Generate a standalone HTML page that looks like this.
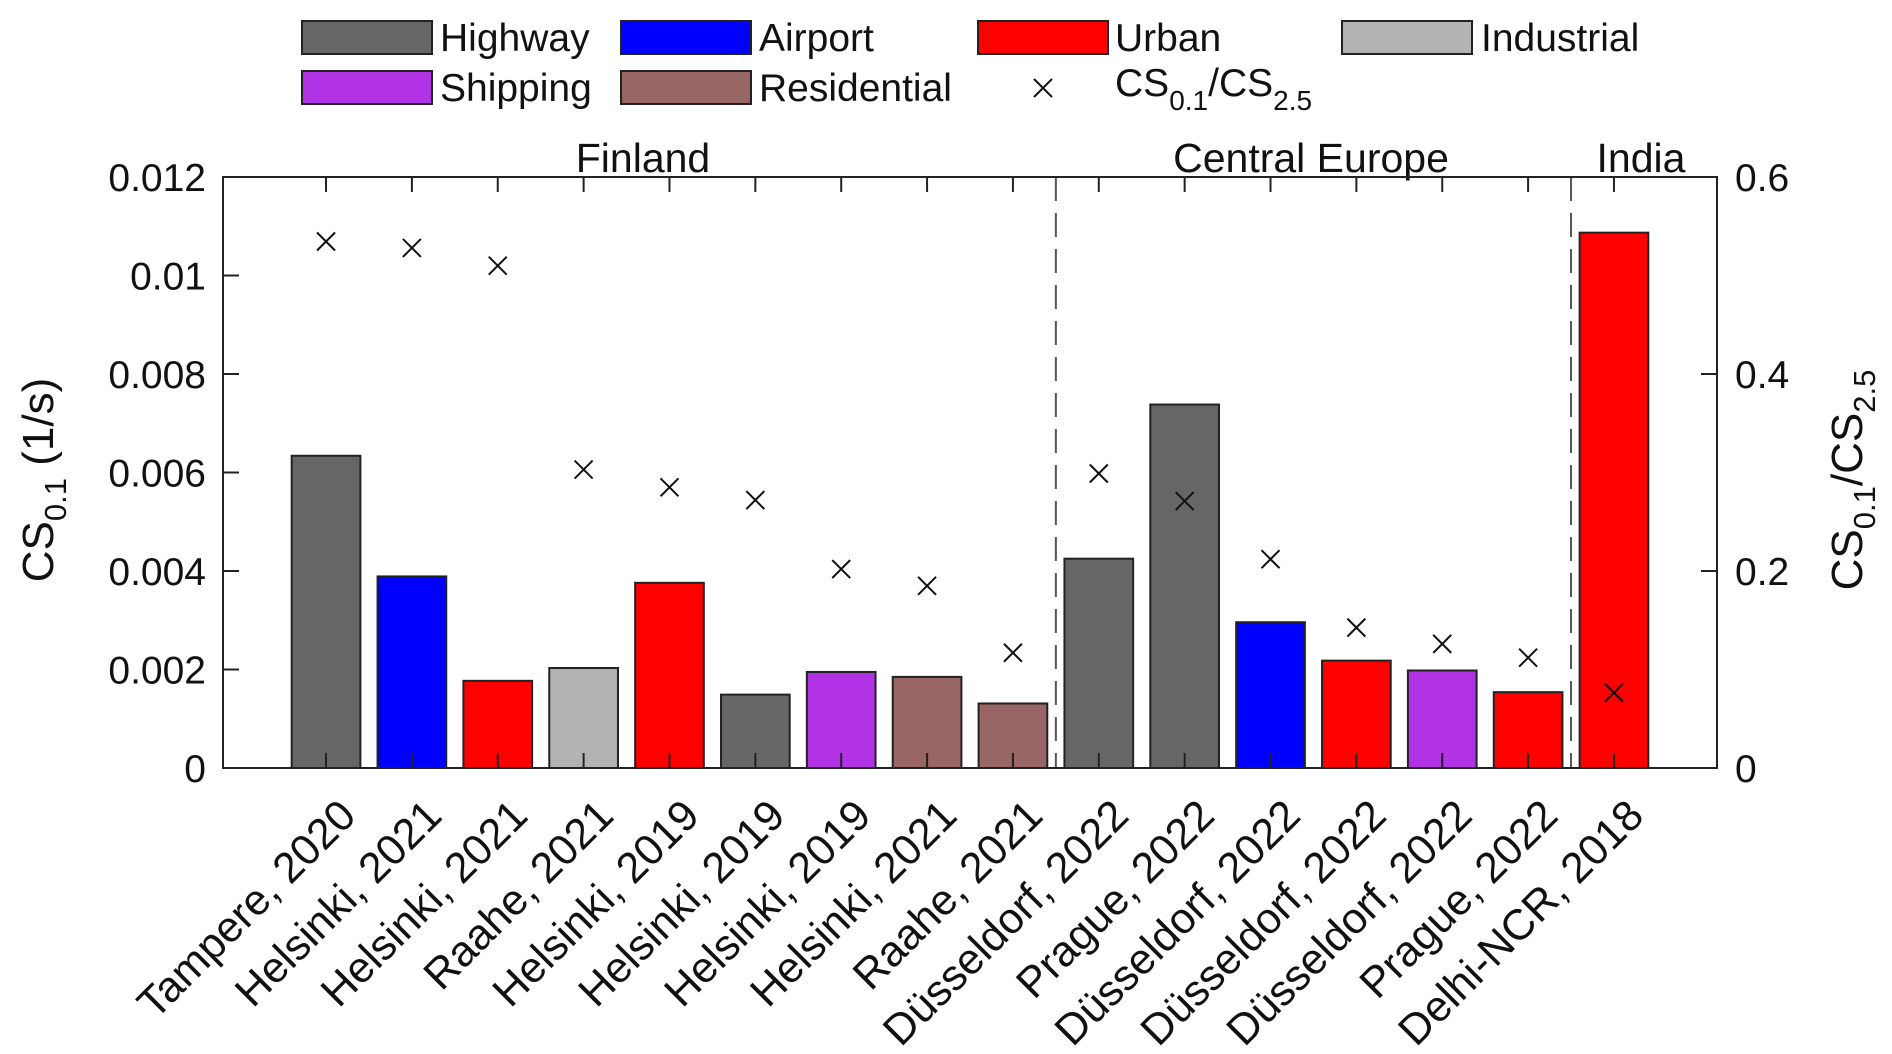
<!DOCTYPE html>
<html><head><meta charset="utf-8"><style>
html,body{margin:0;padding:0;background:#fff}
svg{display:block;font-family:"Liberation Sans",Arial,sans-serif}
</style></head><body>
<svg id="chart" width="1892" height="1054" viewBox="0 0 1892 1054" xmlns="http://www.w3.org/2000/svg">
<g id="legend" font-size="39" fill="#111">
  <g><rect x="302" y="21" width="130" height="33" fill="#666666" stroke="#222" stroke-width="2"/><text x="440" y="51">Highway</text></g>
  <g><rect x="621" y="21" width="130" height="33" fill="#0000ff" stroke="#222" stroke-width="2"/><text x="759" y="51">Airport</text></g>
  <g><rect x="978" y="21" width="130" height="33" fill="#ff0000" stroke="#222" stroke-width="2"/><text x="1115" y="51">Urban</text></g>
  <g><rect x="1342" y="21" width="130" height="33" fill="#b3b3b3" stroke="#222" stroke-width="2"/><text x="1481" y="51">Industrial</text></g>
  <g><rect x="302" y="71" width="130" height="33" fill="#b233e6" stroke="#222" stroke-width="2"/><text x="440" y="101">Shipping</text></g>
  <g><rect x="621" y="71" width="130" height="33" fill="#996666" stroke="#222" stroke-width="2"/><text x="759" y="101">Residential</text></g>
  <g><path d="M1034 79 L1052 97 M1052 79 L1034 97" stroke="#111" stroke-width="2"/><text x="1115" y="96">CS<tspan font-size="28" dy="14">0.1</tspan><tspan dy="-14">/CS</tspan><tspan font-size="28" dy="14">2.5</tspan></text></g>
</g>
<g id="regions" font-size="41" text-anchor="middle" fill="#111">
  <text x="643" y="172">Finland</text>
  <text x="1311" y="172">Central Europe</text>
  <text x="1641" y="172">India</text>
</g>
<g id="plot"></g>
<text transform="translate(53,480) rotate(-90)" text-anchor="middle" font-size="44" fill="#111">CS<tspan font-size="31" dy="13">0.1</tspan><tspan dy="-13"> (1/s)</tspan></text>
<text transform="translate(1862,480) rotate(-90)" text-anchor="middle" font-size="44" fill="#111">CS<tspan font-size="31" dy="13">0.1</tspan><tspan dy="-13">/CS</tspan><tspan font-size="31" dy="13">2.5</tspan></text>
</svg>
<script>
const categories = ["Tampere, 2020","Helsinki, 2021","Helsinki, 2021","Raahe, 2021","Helsinki, 2019","Helsinki, 2019","Helsinki, 2019","Helsinki, 2021","Raahe, 2021","Düsseldorf, 2022","Prague, 2022","Düsseldorf, 2022","Düsseldorf, 2022","Düsseldorf, 2022","Prague, 2022","Delhi-NCR, 2018"];
const sourceTypes = ["Highway","Airport","Urban","Industrial","Urban","Highway","Shipping","Residential","Residential","Highway","Highway","Airport","Urban","Shipping","Urban","Urban"];
const cs01Values = [0.00634,0.00389,0.00177,0.00203,0.00376,0.00149,0.00195,0.00185,0.00131,0.00425,0.00738,0.00296,0.00218,0.00198,0.00154,0.01087];
const ratioValues = [0.5345,0.528,0.510,0.303,0.285,0.272,0.202,0.185,0.117,0.299,0.271,0.212,0.1425,0.126,0.112,0.0764];
const yTicks = [0,0.002,0.004,0.006,0.008,0.01,0.012];
const yTickLabels = ["0","0.002","0.004","0.006","0.008","0.01","0.012"];
const y2Ticks = [0,0.2,0.4,0.6];
const y2TickLabels = ["0","0.2","0.4","0.6"];
const dividers = [8.5,14.5];

const colors = {Highway:"#666666",Airport:"#0000ff",Urban:"#ff0000",Industrial:"#b3b3b3",Shipping:"#b233e6",Residential:"#996666"};
const L=223,R=1717,T=177,B=768;
const NS="http://www.w3.org/2000/svg";
const n=categories.length;
const step=(R-L)/(n-1+2.4);
function x(i){return L+(i+1.2)*step;}
function y(v){return B-(v/0.012)*(B-T);}
function y2(v){return B-(v/0.6)*(B-T);}
const g=document.getElementById('plot');
function mk(tag,attrs,parent){const e=document.createElementNS(NS,tag);for(const k in attrs)e.setAttribute(k,attrs[k]);(parent||g).appendChild(e);return e;}

const bw=step*0.8;
cs01Values.forEach((v,i)=>{
  const r=mk('rect',{x:x(i)-bw/2,y:y(v),width:bw,height:B-y(v),fill:colors[sourceTypes[i]],stroke:'#222','stroke-width':2});
  
  
});
dividers.forEach((d,k)=>{
  const l=mk('line',{x1:x(d),x2:x(d),y1:T,y2:B,stroke:'#555','stroke-width':2,'stroke-dasharray':'24,12'});
  
  
});
ratioValues.forEach((v,i)=>{
  const cx=x(i),cy=y2(v),s=9;
  const p=mk('path',{d:`M${cx-s} ${cy-s} L${cx+s} ${cy+s} M${cx+s} ${cy-s} L${cx-s} ${cy+s}`,stroke:'#111','stroke-width':2});
  
  
});
const box=mk('rect',{x:L,y:T,width:R-L,height:B-T,fill:'none',stroke:'#222','stroke-width':2});


categories.forEach((c,i)=>{
  const xi=x(i);
  mk('line',{x1:xi,x2:xi,y1:B,y2:B-15,stroke:'#222','stroke-width':2});
  mk('line',{x1:xi,x2:xi,y1:T,y2:T+15,stroke:'#222','stroke-width':2});
  const t=mk('text',{transform:`translate(${xi+32},${818}) rotate(-45)`,'text-anchor':'end','font-size':43,fill:'#111'});
  t.textContent=c;
  
  
});
yTicks.forEach((v,i)=>{
  mk('line',{x1:L,x2:L+16,y1:y(v),y2:y(v),stroke:'#222','stroke-width':2});
  const t=mk('text',{x:206,y:y(v)+14,'text-anchor':'end','font-size':39,fill:'#111'});
  t.textContent=yTickLabels[i];
  
  
});
y2Ticks.forEach((v,i)=>{
  mk('line',{x1:R,x2:R-16,y1:y2(v),y2:y2(v),stroke:'#222','stroke-width':2});
  const t=mk('text',{x:1735,y:y2(v)+14,'text-anchor':'start','font-size':39,fill:'#111'});
  t.textContent=y2TickLabels[i];
  
  
});
</script>
</body></html>
